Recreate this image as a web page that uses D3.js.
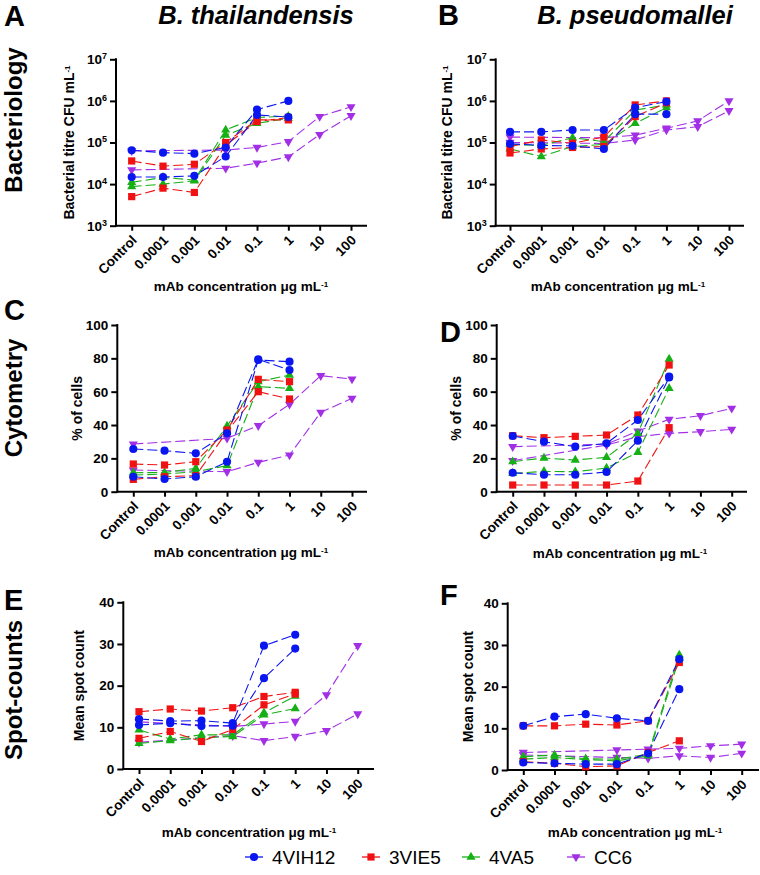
<!DOCTYPE html>
<html><head><meta charset="utf-8">
<script src="https://cdn.jsdelivr.net/npm/d3@7"></script>
<style>body{margin:0;background:#fff} svg{display:block} text{font-family:Arial,'Liberation Sans',sans-serif}</style>
</head><body><svg id="chart" width="760" height="875"></svg>
<script>
// ---------- categories ----------
const concentrations = ["Control","0.0001","0.001","0.01","0.1","1","10","100"];
const antibodies = ["4VIH12","3VIE5","4VA5","CC6"];
const rowLabels = ["Bacteriology","Cytometry","Spot-counts"];
const speciesTitles = ["B. thailandensis","B. pseudomallei"];
const yTicksLog = [1e3,1e4,1e5,1e6,1e7];
const yTicksPct = [0,20,40,60,80,100];
const yTicksSpot = [0,10,20,30,40];

// ---------- A: bacteriology, B. thailandensis (CFU/mL), two replicates per mAb ----------
const A_4VIH12 = [[6.5e4,5.7e4,5.4e4,7.6e4,6.2e5,1.0e6,null,null],[1.48e4,1.48e4,1.58e4,4.6e4,4.6e5,4.1e5,null,null]];
const A_3VIE5  = [[3.6e4,2.7e4,3.0e4,1.0e5,3.5e5,3.5e5,null,null],[5.0e3,8.0e3,6.3e3,8.6e4,3.2e5,4.0e5,null,null]];
const A_4VA5   = [[1.1e4,1.45e4,1.25e4,2.0e5,4.0e5,4.3e5,null,null],[8.7e3,1.0e4,1.2e4,1.5e5,2.9e5,3.8e5,null,null]];
const A_CC6    = [[6.3e4,null,null,6.6e4,7.6e4,1.05e5,4.2e5,7.2e5],[2.2e4,null,null,2.4e4,3.2e4,4.5e4,1.55e5,4.4e5]];
// ---------- B: bacteriology, B. pseudomallei ----------
const B_4VIH12 = [[1.8e5,1.8e5,2.0e5,2.0e5,6.9e5,9.6e5,null,null],[9.3e4,8.5e4,8.3e4,7.0e4,4.8e5,4.8e5,null,null]];
const B_3VIE5  = [[8.0e4,1.15e5,9.6e4,1.35e5,8.0e5,1.0e6,null,null],[5.6e4,7.0e4,7.6e4,8.0e4,4.2e5,9.0e5,null,null]];
const B_4VA5   = [[9.0e4,8.5e4,1.3e5,1.05e5,6.0e5,8.0e5,null,null],[7.0e4,4.6e4,8.0e4,9.0e4,2.9e5,6.9e5,null,null]];
const B_CC6    = [[1.35e5,null,null,1.3e5,1.5e5,2.2e5,3.3e5,1.0e6],[1.0e5,null,null,9.5e4,1.15e5,2.0e5,2.4e5,5.8e5]];
// ---------- C: cytometry, B. thailandensis (% of cells) ----------
const C_4VIH12 = [[25.6,24.6,23,35,79.4,73,null,null],[9,7.6,9,18,79,78,null,null]];
const C_3VIE5  = [[16.6,16,18,37,67.4,66,null,null],[7.4,9,9.6,36,60,55.6,null,null]];
const C_4VA5   = [[11.4,11.5,14,39.4,66,70,null,null],[10,10.6,12,15.6,63,62,null,null]];
const C_CC6    = [[28.6,null,null,32,39.6,52.4,69.6,67.6],[13,null,null,12,17.6,22,47.6,56]];
// ---------- D: cytometry, B. pseudomallei ----------
const D_4VIH12 = [[33.4,30,27,29,43,69,null,null],[11.4,10.2,10.2,11.8,30.6,68.5,null,null]];
const D_3VIE5  = [[33.6,32.4,33.2,34,46,76,null,null],[4,4,4,4,6.4,38.4,null,null]];
const D_4VA5   = [[18,20.2,19,20.6,35,79.6,null,null],[11,12.2,12,14.2,23.6,62,null,null]];
const D_CC6    = [[27,null,null,28.5,36.4,43.4,45.6,50],[18.6,null,null,28,33,35,36,37.4]];
// ---------- E: spot counts, B. thailandensis ----------
const E_4VIH12 = [[12,11.5,11.6,11,29.6,32.2,null,null],[10.56,11,10.3,10.4,21.8,28.9,null,null]];
const E_3VIE5  = [[13.75,14.4,13.9,14.7,17.4,18.4,null,null],[7.36,9,6.6,9.5,15.4,18,null,null]];
const E_4VA5   = [[9.36,7.2,8.2,8.2,13.5,17.5,null,null],[6.16,6.8,7.5,7.8,13,14.5,null,null]];
const E_CC6    = [[11.3,null,null,10.2,10.8,11.4,17.8,29.6],[6.4,null,null,8,6.8,7.8,9.2,13.2]];
// ---------- F: spot counts, B. pseudomallei ----------
const F_4VIH12 = [[10.6,12.8,13.4,12.4,11.8,26.6,null,null],[1.8,1.6,1.4,1.4,4.0,19.4,null,null]];
const F_3VIE5  = [[10.6,10.6,11.0,10.8,11.8,25.8,null,null],[2.0,1.6,0.8,1.0,4.2,7.0,null,null]];
const F_4VA5   = [[3.2,3.6,2.7,2.6,3.8,27.6,null,null],[2.6,3.0,2.5,2.2,3.4,26.8,null,null]];
const F_CC6    = [[4.2,null,null,4.8,5.0,5.2,5.8,6.2],[3.6,null,null,3.0,2.8,3.4,3.0,4.0]];

// ---------- styles ----------
const colors = ["#0a16f0","#f01212","#16b016","#a22fe6"];
const symbolTypes = [d3.symbolCircle, d3.symbolSquare, d3.symbolTriangle, d3.symbolTriangle];
const symbolRot = [0,0,0,180];
const symbolSize = [52,52,36,36];
const FONT = "Arial,'Liberation Sans',sans-serif";

const panels = [
  {letter:"A", lx:4,   ly:26,  data:[A_4VIH12,A_3VIE5,A_4VA5,A_CC6], kind:"log", ticks:yTicksLog, yMax:null,
   axX:116, xEnd:366, t0:131.7, t7:351, yTop:59.3, yBot:225.7, yTitle:"Bacterial titre CFU mL", yTitleX:69, xTitleX:241, xTitleY:291},
  {letter:"B", lx:438, ly:25,  data:[B_4VIH12,B_3VIE5,B_4VA5,B_CC6], kind:"log", ticks:yTicksLog, yMax:null,
   axX:495.7, xEnd:743, t0:510, t7:729, yTop:59.3, yBot:225.7, yTitle:"Bacterial titre CFU mL", yTitleX:447.5, xTitleX:618, xTitleY:291},
  {letter:"C", lx:4,   ly:320, data:[C_4VIH12,C_3VIE5,C_4VA5,C_CC6], kind:"lin", ticks:yTicksPct, yMax:100,
   axX:117.3, xEnd:366, t0:133.3, t7:352, yTop:325, yBot:491.7, yTitle:"% of cells", yTitleX:77.5, xTitleX:241, xTitleY:557},
  {letter:"D", lx:440, ly:342, data:[D_4VIH12,D_3VIE5,D_4VA5,D_CC6], kind:"lin", ticks:yTicksPct, yMax:100,
   axX:496.7, xEnd:746, t0:512.7, t7:731.7, yTop:325, yBot:491.7, yTitle:"% of cells", yTitleX:456, xTitleX:620, xTitleY:558},
  {letter:"E", lx:4,   ly:610, data:[E_4VIH12,E_3VIE5,E_4VA5,E_CC6], kind:"lin", ticks:yTicksSpot, yMax:40,
   axX:123.3, xEnd:373, t0:139, t7:357.7, yTop:602.3, yBot:769, yTitle:"Mean spot count", yTitleX:79, xTitleX:249, xTitleY:837},
  {letter:"F", lx:440, ly:605, data:[F_4VIH12,F_3VIE5,F_4VA5,F_CC6], kind:"lin", ticks:yTicksSpot, yMax:40,
   axX:507.7, xEnd:758, t0:523.3, t7:741.7, yTop:603.3, yBot:770, yTitle:"Mean spot count", yTitleX:468.5, xTitleX:635, xTitleY:837}
];

const svg = d3.select("#chart");

function sym(i){ return d3.symbol().type(symbolTypes[i]).size(symbolSize[i])(); }

panels.forEach(p => {
  const g = svg.append("g");
  const x = d3.scalePoint().domain(concentrations).range([p.t0, p.t7]);
  const y = p.kind === "log"
    ? d3.scaleLog().domain([1e3,1e7]).range([p.yBot, p.yTop])
    : d3.scaleLinear().domain([0,p.yMax]).range([p.yBot, p.yTop]);

  // x axis
  const xa = g.append("g").attr("transform",`translate(0,${p.yBot})`)
    .call(d3.axisBottom(x).tickSize(5).tickSizeOuter(0));
  xa.select(".domain").remove();
  xa.selectAll(".tick line").attr("stroke","#000").attr("stroke-width",2);
  xa.selectAll(".tick text").attr("transform","rotate(-45)").attr("text-anchor","end")
    .attr("x",-7).attr("y",10).attr("dy","0.35em")
    .style("font-family",FONT).style("font-size","13.5px").style("font-weight","bold").attr("fill","#000");
  g.append("line").attr("x1",p.axX).attr("x2",p.xEnd).attr("y1",p.yBot).attr("y2",p.yBot)
    .attr("stroke","#000").attr("stroke-width",2).attr("stroke-linecap","square");

  // y axis
  const yAxis = d3.axisLeft(y).tickValues(p.ticks).tickSize(6).tickPadding(3).tickSizeOuter(0);
  if (p.kind === "log") yAxis.tickFormat(()=>"");
  const ya = g.append("g").attr("transform",`translate(${p.axX},0)`).call(yAxis);
  ya.select(".domain").remove();
  ya.selectAll(".tick line").attr("stroke","#000").attr("stroke-width",2);
  ya.selectAll(".tick text").style("font-family",FONT).style("font-size","13.5px").style("font-weight","bold").attr("fill","#000");
  if (p.kind === "log") {
    ya.selectAll(".tick text").each(function(d){
      const t = d3.select(this);
      t.text(null);
      t.append("tspan").text("10");
      t.append("tspan").attr("dy","-0.55em").style("font-size","9px").text(String(Math.round(Math.log10(d))));
    });
  }
  g.append("line").attr("x1",p.axX).attr("x2",p.axX).attr("y1",p.yTop).attr("y2",p.yBot)
    .attr("stroke","#000").attr("stroke-width",2).attr("stroke-linecap","square");

  // y title
  const yt = g.append("text").attr("transform",`translate(${p.yTitleX},${(p.yTop+p.yBot)/2}) rotate(-90)`)
    .attr("text-anchor","middle").attr("dy","0.35em")
    .style("font-family",FONT).style("font-size","14px").style("font-weight","bold");
  yt.append("tspan").text(p.yTitle);
  if (p.kind === "log") yt.append("tspan").attr("dy","-0.5em").style("font-size","8px").text("-1");

  // x title
  const xt = g.append("text").attr("x",p.xTitleX).attr("y",p.xTitleY).attr("text-anchor","middle")
    .style("font-family",FONT).style("font-size","13.5px").style("font-weight","bold");
  xt.append("tspan").text("mAb concentration \u03bcg mL");
  xt.append("tspan").attr("dy","-0.5em").style("font-size","8px").text("-1");

  // panel letter
  g.append("text").attr("x",p.lx).attr("y",p.ly).text(p.letter)
    .style("font-family",FONT).style("font-size","29px").style("font-weight","bold");

  const order = [3,2,1,0];
  const line = d3.line().x(d=>x(d.c)).y(d=>y(d.v));
  // lines
  order.forEach(i => {
    p.data[i].forEach(rep => {
      const pts = rep.map((v,k)=>({c:concentrations[k], v})).filter(d=>d.v!==null);
      g.append("path").attr("d",line(pts)).attr("fill","none").attr("stroke",colors[i])
        .attr("stroke-width",1.1).attr("stroke-dasharray","10,4");
    });
  });
  // markers
  order.forEach(i => {
    p.data[i].forEach(rep => {
      rep.forEach((v,k) => {
        if (v === null) return;
        g.append("path").attr("d",sym(i))
          .attr("transform",`translate(${x(concentrations[k])},${y(v)}) rotate(${symbolRot[i]})`)
          .attr("fill",colors[i]);
      });
    });
  });
});

// species titles
[[256,24],[635,24]].forEach((pos,i)=>{
  svg.append("text").attr("x",pos[0]).attr("y",pos[1]).attr("text-anchor","middle")
    .style("font-family",FONT).style("font-size","25.5px").style("font-weight","bold").style("font-style","italic")
    .text(speciesTitles[i]);
});

// row labels
[120,398,690].forEach((cy,i)=>{
  svg.append("text").attr("transform",`translate(14,${cy}) rotate(-90)`).attr("text-anchor","middle").attr("dy","0.35em")
    .style("font-family",FONT).style("font-size","24px").style("font-weight","bold").text(rowLabels[i]);
});

// legend
const legendMarkerX = [254,371,471,576];
const legendY = 857;
antibodies.forEach((name,i)=>{
  const g = svg.append("g");
  g.append("line").attr("x1",legendMarkerX[i]-9).attr("x2",legendMarkerX[i]+9).attr("y1",legendY).attr("y2",legendY)
    .attr("stroke",colors[i]).attr("stroke-width",1.3);
  g.append("path").attr("d",sym(i)).attr("transform",`translate(${legendMarkerX[i]},${legendY}) rotate(${symbolRot[i]})`).attr("fill",colors[i]);
  g.append("text").attr("x",legendMarkerX[i]+18).attr("y",legendY).attr("dy","0.35em")
    .style("font-family",FONT).style("font-size","19px").text(name);
});
</script></body></html>
